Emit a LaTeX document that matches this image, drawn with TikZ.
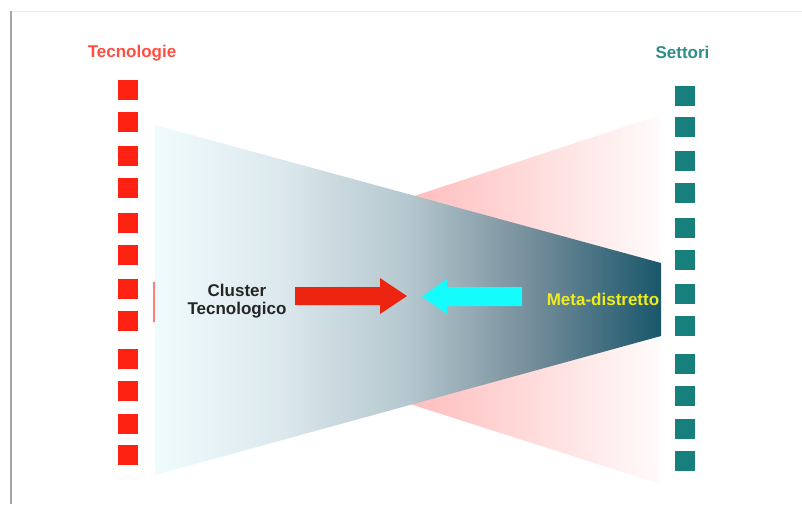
\documentclass[tikz,border=0pt]{standalone}
\usepackage{fontspec}
\setmainfont{Liberation Sans}
\usepackage{xcolor}
\definecolor{tecnoredc}{HTML}{FF2212}
\definecolor{settoric}{HTML}{17807D}
\definecolor{arrowredc}{HTML}{EC2410}
\definecolor{arrowcyanc}{HTML}{14FCFC}
\definecolor{metayellowc}{HTML}{F0EC1C}
\colorlet{labelred}{tecnoredc!80!white}
\colorlet{labelteal}{settoric!90!white}
\pgfdeclarehorizontalshading{clustershade}{100bp}{%
  rgb(0bp)=(0.94,0.985,0.99); rgb(25bp)=(0.94,0.985,0.99);
  rgb(37.5bp)=(0.86,0.91,0.93); rgb(50bp)=(0.71,0.78,0.81);
  rgb(62.5bp)=(0.45,0.55,0.60); rgb(75bp)=(0.10,0.34,0.42);
  rgb(100bp)=(0.10,0.34,0.42)}
\pgfdeclarehorizontalshading{metashade}{100bp}{%
  rgb(0bp)=(1,0.49,0.49); rgb(25bp)=(1,0.49,0.49);
  rgb(75bp)=(1,0.985,0.985); rgb(100bp)=(1,0.985,0.985)}
\tikzstyle{tecsq} =[
    fill=tecnoredc,
    rectangle,
    minimum size=20pt,
    inner sep=0pt
    ]
\tikzstyle{setsq} =[
    fill=settoric,
    rectangle,
    minimum size=20pt,
    inner sep=0pt
    ]
\tikzstyle{bigtitle} =[
    font=\fontsize{17}{18}\selectfont\bfseries,
    inner sep=0pt,
    anchor=base
    ]
\begin{document}
\begin{tikzpicture}[x=1pt,y=-1pt]
\useasboundingbox (0,0) rectangle (802,504);
% slide frame
\draw[black!8] (11,11) -- (802,11);
\draw[black!35, line width=1.2pt] (11,11) -- (11,504);
% the two fans
\shade[shading=metashade] (153.5,282) -- (660,115) -- (660,484) -- (153.5,322) -- cycle;
\shade[shading=clustershade] (155,125) -- (661,263) -- (661,336) -- (155,475) -- cycle;
% columns
\foreach \y [count=\i] in {90,122,156,188,223,255,289,321,359,391,424,455}
    \node[tecsq] (t\i) at (128,\y) {};
\foreach \y [count=\i] in {96,127,161,193,228,260,294,326,364,396,429,461}
    \node[setsq] (s\i) at (685,\y) {};
\node[bigtitle, text=labelred] (tecno) at (132,57) {Tecnologie};
\node[bigtitle, text=labelteal] (settori) at (682.5,58) {Settori};
% labels and arrows
\node[bigtitle, anchor=center, align=center, text=black!85] (cluster) at (237,301.5) {Cluster\\Tecnologico};
\node[bigtitle, text=metayellowc] (meta) at (603,305) {Meta-distretto};
\fill[arrowredc] (295,287) -- (380,287) -- (380,278) -- (407,296) -- (380,314) -- (380,305) -- (295,305) -- cycle;
\fill[arrowcyanc] (522,287) -- (447,287) -- (447,279) -- (422,296.5) -- (447,314) -- (447,306) -- (522,306) -- cycle;
\end{tikzpicture}
\end{document}
